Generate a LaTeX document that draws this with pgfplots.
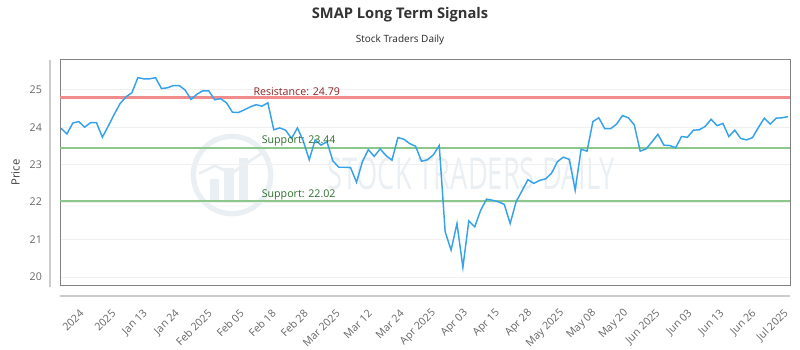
\documentclass[border=0pt]{standalone}
\usepackage{pgfplots}
\pgfplotsset{compat=1.18}
\usepackage{graphicx}
\usepackage{fontspec}
\setmainfont{Open Sans}
\definecolor{lineblue}{RGB}{54,162,235}
\definecolor{mygreen}{RGB}{140,200,140}
\definecolor{myred}{RGB}{242,140,140}
\definecolor{restext}{RGB}{140,35,35}
\definecolor{suptext}{RGB}{45,110,45}
\definecolor{ticktext}{RGB}{102,102,102}
\definecolor{framegray}{RGB}{130,130,130}
\definecolor{wmark}{RGB}{234,239,244}
\begin{document}
\begin{tikzpicture}
\useasboundingbox (-45.225pt,-48.225pt) rectangle (554.775pt,214.275pt);
% watermark
\draw[wmark, line width=4pt] (128.8pt,83pt) circle (29pt);
\fill[wmark] (112pt,62pt) rectangle (119pt,80pt);
\fill[wmark] (123pt,62pt) rectangle (130pt,88pt);
\fill[wmark] (134pt,62pt) rectangle (141pt,96pt);
\draw[wmark, line width=2pt] (104pt,84pt) -- (116pt,90pt) -- (128pt,84pt) -- (152pt,100pt);
\node[wmark, font=\fontsize{33}{33}\selectfont, anchor=center] at (308pt,84pt) {\scalebox{0.62}[1]{STOCK TRADERS DAILY}};
\begin{axis}[
  at={(0,0)}, anchor=south west,
  scale only axis, width=547.5pt, height=169.5pt,
  xmin=-0.12, xmax=123.4, ymin=19.77, ymax=25.8,
  axis line style={draw=framegray, line width=0.8pt},
  ytick={20,21,22,23,24,25},
  ymajorgrids, grid style={draw=gray!12, line width=0.6pt},
  xtick={4.05,9.47,14.89,20.32,25.74,31.16,36.58,42.00,47.43,52.85,58.27,63.69,69.11,74.54,79.96,85.38,90.80,96.22,101.65,107.07,112.49,117.91,123.33},
  xticklabels={2024,2025,Jan 13,Jan 24,Feb 2025,Feb 05,Feb 18,Feb 28,Mar 2025,Mar 12,Mar 24,Apr 2025,Apr 03,Apr 15,Apr 28,May 2025,May 08,May 20,Jun 2025,Jun 03,Jun 13,Jun 26,Jul 2025},
  tick style={draw=none},
  /pgf/number format/assume math mode=true,
  ticklabel style={font=\fontsize{8}{9}\selectfont, text=ticktext},
  xticklabel style={yshift=-17pt, rotate=45, anchor=east},
  yticklabel style={xshift=-10.3pt},
  clip=false,
]
\draw[gray!40, line width=0.8pt] ([yshift=-7.7pt]rel axis cs:0,0) -- ([yshift=-7.7pt]rel axis cs:1,0);
\draw[gray!40, line width=0.8pt] ([xshift=-7.7pt]rel axis cs:0,1) -- ([xshift=-7.7pt,yshift=-1pt]rel axis cs:0,0);
\addplot[color=mygreen, line width=1.4pt, forget plot] coordinates {(-0.12,23.44) (123.4,23.44)};
\addplot[color=mygreen, line width=1.4pt, forget plot] coordinates {(-0.12,22.02) (123.4,22.02)};
\addplot[draw=myred, line width=1.6pt, forget plot] table[x=x, y=y] {
x y
-0.12 24.79
123.4 24.79
};
\addplot[lineblue, line width=1.1pt, mark=none] table[x=i, y=p] {
i p
0 23.97
1 23.82
2 24.11
3 24.15
4 24.00
5 24.12
6 24.12
7 23.73
8 24.03
9 24.34
10 24.63
11 24.81
12 24.92
13 25.32
14 25.29
15 25.29
16 25.32
17 25.03
18 25.05
19 25.11
20 25.11
21 24.99
22 24.74
23 24.88
24 24.97
25 24.97
26 24.73
27 24.76
28 24.65
29 24.40
30 24.39
31 24.46
32 24.54
33 24.60
34 24.56
35 24.65
36 23.93
37 23.98
38 23.92
39 23.70
40 23.98
41 23.63
42 23.13
43 23.66
44 23.52
45 23.61
46 23.10
47 22.93
48 22.93
49 22.92
50 22.53
51 23.08
52 23.40
53 23.22
54 23.42
55 23.24
56 23.12
57 23.72
58 23.68
59 23.56
60 23.49
61 23.09
62 23.13
63 23.26
64 23.51
65 21.21
66 20.72
67 21.43
68 20.26
69 21.50
70 21.34
71 21.78
72 22.08
73 22.05
74 22.01
75 21.94
76 21.43
77 22.01
78 22.30
79 22.60
80 22.50
81 22.58
82 22.62
83 22.77
84 23.08
85 23.20
86 23.14
87 22.32
88 23.41
89 23.36
90 24.15
91 24.25
92 23.96
93 23.96
94 24.08
95 24.31
96 24.25
97 24.06
98 23.36
99 23.42
100 23.61
101 23.81
102 23.52
103 23.51
104 23.45
105 23.75
106 23.73
107 23.92
108 23.93
109 24.02
110 24.21
111 24.04
112 24.10
113 23.75
114 23.92
115 23.70
116 23.66
117 23.72
118 23.99
119 24.24
120 24.08
121 24.24
122 24.25
123 24.28
};
\node[restext, anchor=south west, inner sep=1pt, font=\fontsize{8}{9}\selectfont] at (axis cs:32.3,24.79) {Resistance: 24.79};
\node[suptext, anchor=south west, inner sep=1pt, font=\fontsize{8}{9}\selectfont] at (axis cs:33.7,23.44) {Support: 23.44};
\node[suptext, anchor=south west, inner sep=1pt, font=\fontsize{8}{9}\selectfont] at (axis cs:33.7,22.02) {Support: 22.02};
\end{axis}
\node[font=\bfseries\fontsize{11}{12}\selectfont, text=black!80] at (254.8pt,203pt) {SMAP Long Term Signals};
\node[font=\fontsize{7.5}{9}\selectfont, text=black!85] at (254.8pt,184.3pt) {Stock Traders Daily};
\node[rotate=90, font=\fontsize{8.5}{10}\selectfont, text=black!75] at (-33.6pt,84.9pt) {Price};
\end{tikzpicture}
\end{document}
